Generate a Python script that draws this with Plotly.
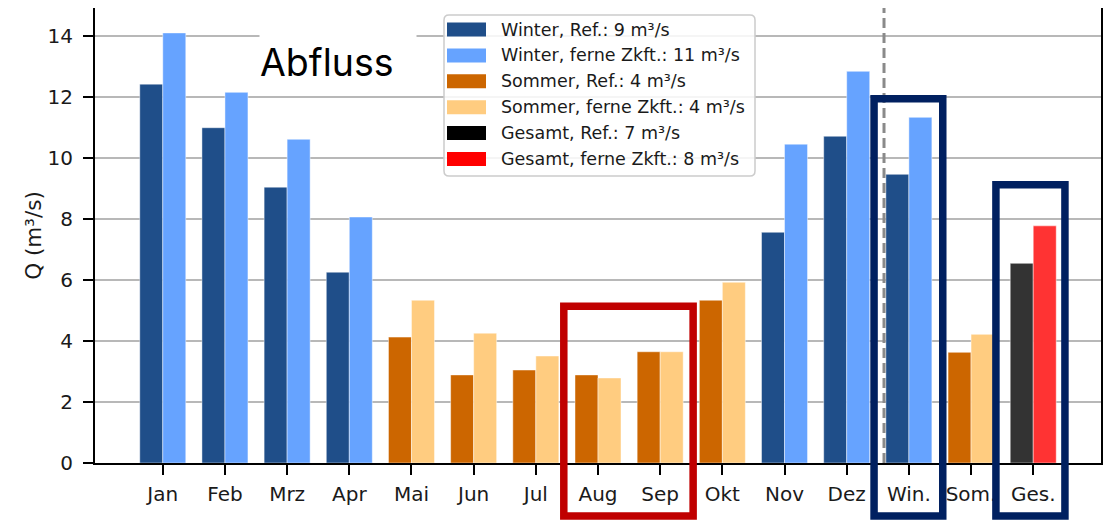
import plotly.graph_objects as go

# monthly and seasonal mean discharge (m3/s)
months = ["Jan", "Feb", "Mrz", "Apr", "Mai", "Jun", "Jul", "Aug", "Sep", "Okt",
          "Nov", "Dez", "Win.", "Som.", "Ges."]
season = ["W", "W", "W", "W", "S", "S", "S", "S", "S", "S", "W", "W", "W", "S", "G"]
q_ref = [12.43, 11.0, 9.05, 6.26, 4.13, 2.89, 3.05, 2.89, 3.65, 5.34,
         7.57, 10.72, 9.47, 3.63, 6.55]
q_fut = [14.11, 12.16, 10.62, 8.07, 5.34, 4.26, 3.51, 2.79, 3.65, 5.93,
         10.46, 12.85, 11.34, 4.22, 7.78]

legend_labels = ["Winter, Ref.: 9 m³/s", "Winter, ferne Zkft.: 11 m³/s",
                 "Sommer, Ref.: 4 m³/s", "Sommer, ferne Zkft.: 4 m³/s",
                 "Gesamt, Ref.: 7 m³/s", "Gesamt, ferne Zkft.: 8 m³/s"]
legend_colors = ["#1f4e89", "#66a3ff", "#cc6600", "#ffcc80", "#000000", "#ff0000"]

ref_col = {"W": "#1f4e89", "S": "#cc6600", "G": "#333333"}
fut_col = {"W": "#66a3ff", "S": "#ffcc80", "G": "#ff3333"}

# page body has an 8px margin, so the figure is a bit smaller than the window
OFF = 8
W, H = 1114 - OFF, 521 - OFF
ML, MR, MT, MB = 87, 13, 0, 58
PW, PH = W - ML - MR, H - MT - MB
YMAX = PH / 30.48
FONT = "DejaVu Sans"


def px(sx):
    # screen x -> paper
    return (sx - OFF - ML) / PW


def py(sy):
    # screen y -> paper
    return (OFF + MT + PH - sy) / PH


def rounded_box(x0, x1, y0, y1, r=5):
    # screen px box -> paper path with rounded corners
    rx, ry = r / PW, r / PH
    a, b, c, d = px(x0), px(x1), py(y1), py(y0)
    return (f"M{a + rx},{c} L{b - rx},{c} Q{b},{c} {b},{c + ry} L{b},{d - ry} "
            f"Q{b},{d} {b - rx},{d} L{a + rx},{d} Q{a},{d} {a},{d - ry} "
            f"L{a},{c + ry} Q{a},{c} {a + rx},{c} Z")


x = list(range(len(months)))
edge = dict(width=1, color="rgba(255,255,255,0.45)")

fig = go.Figure()
fig.add_trace(go.Bar(x=x, y=q_ref, marker=dict(color=[ref_col[s] for s in season], line=edge),
                     showlegend=False))
fig.add_trace(go.Bar(x=x, y=q_fut, marker=dict(color=[fut_col[s] for s in season], line=edge),
                     showlegend=False))

shapes = []
# separator between months and seasons
shapes.append(dict(type="line", xref="x", yref="paper", x0=11.6, x1=11.6, y0=0, y1=1,
                   line=dict(color="#8a8a8a", width=3, dash="10px,5px"), layer="above"))
# highlight boxes
boxes = [(6.45, 8.53, 5.14, "#c00000"), (11.44, 12.545, 11.95, "#002060"),
         (13.40, 14.51, 9.13, "#002060")]
for x0, x1, top, col in boxes:
    shapes.append(dict(type="rect", xref="x", yref="paper", x0=x0, x1=x1,
                       y0=py(516), y1=top / YMAX, line=dict(color=col, width=7.5),
                       fillcolor="rgba(0,0,0,0)", layer="above"))

# legend drawn by hand to match the wide swatches
shapes.append(dict(type="path", xref="paper", yref="paper",
                   path=rounded_box(444, 755, 15, 176),
                   line=dict(color="#cccccc", width=1.5),
                   fillcolor="rgba(255,255,255,0.85)", layer="above"))
annotations = []
for i, (lab, col) in enumerate(zip(legend_labels, legend_colors)):
    yc = 29.5 + 25.9 * i
    shapes.append(dict(type="rect", xref="paper", yref="paper", x0=px(447), x1=px(486),
                       y0=py(yc + 7), y1=py(yc - 7), line=dict(width=0), fillcolor=col,
                       layer="above"))
    annotations.append(dict(text=lab, xref="paper", yref="paper", x=px(499), y=py(yc),
                            xanchor="left", yanchor="middle", showarrow=False,
                            font=dict(family=FONT, size=17.5, color="#1a1a1a")))

annotations.append(dict(text="Abfluss", xref="paper", yref="paper", x=px(259), y=py(62),
                        xanchor="left", yanchor="middle", showarrow=False, align="left",
                        width=156, height=56, bgcolor="white", borderpad=0,
                        font=dict(family="Inter", size=37.5, color="black")))

fig.update_layout(
    width=W, height=H,
    margin=dict(l=ML, r=MR, t=MT, b=MB, autoexpand=False),
    barmode="group", bargap=0.26, bargroupgap=0,
    plot_bgcolor="white", paper_bgcolor="white",
    font=dict(family=FONT, size=20, color="#1a1a1a"),
    shapes=shapes, annotations=annotations,
)
fig.update_xaxes(range=[-1.09, 15.09], tickvals=x, ticktext=months, showgrid=False,
                 zeroline=False, showline=True, linewidth=2, linecolor="black", mirror=True,
                 ticks="outside", ticklen=10, tickwidth=2, tickcolor="black",
                 ticklabelstandoff=2, tickfont=dict(size=20))
fig.update_yaxes(range=[0, YMAX], tickvals=list(range(0, 15, 2)), showgrid=True,
                 gridcolor="#b8b8b8", gridwidth=2, zeroline=False, showline=True,
                 linewidth=2, linecolor="black", mirror=True, ticks="outside", ticklen=10,
                 tickwidth=2, tickcolor="black", ticklabelstandoff=6,
                 tickfont=dict(size=20),
                 title=dict(text="Q (m³/s)", font=dict(size=21.5), standoff=0))

fig.write_html("out.html")
